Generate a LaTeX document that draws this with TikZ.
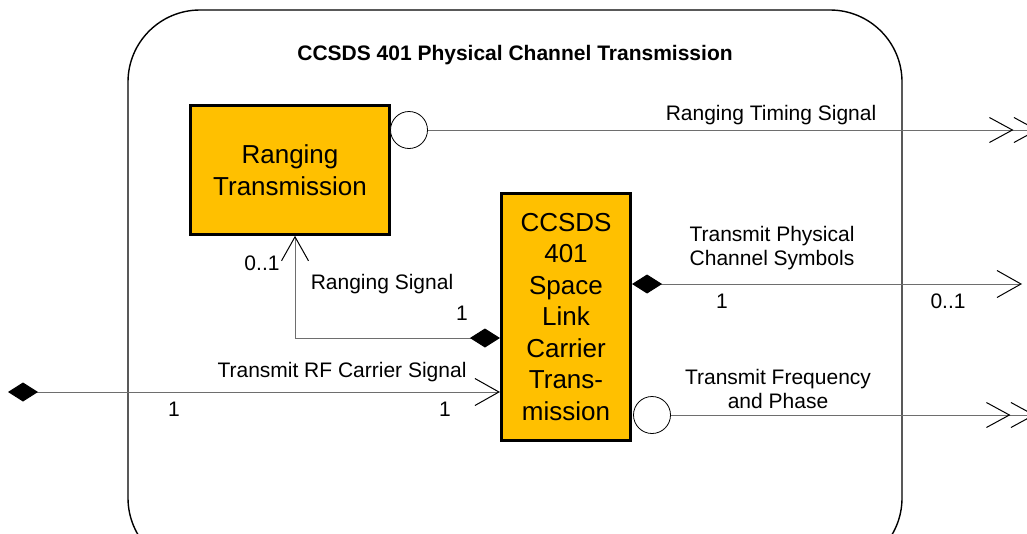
\documentclass[tikz,border=0pt]{standalone}
\usepackage{fontspec}
\setmainfont{Liberation Sans}
\usetikzlibrary{arrows.meta}
\definecolor{boxfill}{RGB}{255,192,0}
\definecolor{linegray}{RGB}{110,110,110}
\begin{document}
\begin{tikzpicture}[x=1pt,y=-1pt,
  block/.style={draw=black, line width=2.6pt, fill=boxfill, inner sep=0pt, align=center,
    font=\fontsize{26}{31.5}\selectfont},
  port/.style={circle, draw=black, line width=0.8pt, fill=white, minimum size=37pt, inner sep=0pt},
  conn/.style={draw=linegray, line width=1pt},
  opentip/.style={-{Straight Barb[length=24pt,width=27pt,color=black,line width=1pt]}},
  dbltip/.style={-{Straight Barb[length=23pt,width=25pt,color=black,line width=1pt,sep=0pt]Straight Barb[length=23pt,width=25pt,color=black,line width=1pt]}},
  diatip/.style={{Diamond[length=30pt,width=19pt,color=black,fill=black]}-},
  diaopen/.style={{Diamond[length=30pt,width=19pt,color=black,fill=black]}-{Straight Barb[length=24pt,width=27pt,color=black,line width=1pt]}},
  lbl/.style={font=\fontsize{21}{24}\selectfont, inner sep=0pt, align=center},
  ttl/.style={font=\bfseries\fontsize{21}{24}\selectfont, inner sep=0pt}]
\useasboundingbox (0,0) rectangle (1027,533);
\clip (0,0) rectangle (1027,533);
\fill[white] (0,0) rectangle (1027,533);

% container
\draw[line width=1.4pt, rounded corners=72pt] (128,10) rectangle (902,570);
\node[ttl] (title) at (515,55) {CCSDS 401 Physical Channel Transmission};

% blocks
\node[block, minimum width=199pt, minimum height=129pt] (rt) at (290,170) {Ranging\\Transmission};
\node[block, minimum width=129.5pt, minimum height=246.5pt] (cc) at (566,317)
  {CCSDS\\401\\Space\\Link\\Carrier\\Trans-\\mission};

% ports
\node[port] (p1) at (409,130) {};
\node[port] (p2) at (652,415) {};

% free ends
\coordinate (rtsEnd) at (1038,130);
\coordinate (tpcEnd) at (1022,284);
\coordinate (tfpEnd) at (1035,415);
\coordinate (rfStart) at (8,392);
\coordinate (rsBend) at (295,338);

% connectors
\draw[conn, dbltip] (p1.east) -- (rtsEnd);
\draw[conn, dbltip] (p2.east) -- (tfpEnd);
\draw[conn, diaopen] (cc.east |- tpcEnd) -- (tpcEnd);
\draw[conn, diaopen] (rfStart) -- (cc.west |- rfStart);
\draw[conn, diaopen] (cc.west |- rsBend) -- (rsBend) -- (rsBend |- rt.south);

% labels
\node[lbl] (l1) at (771,115) {Ranging Timing Signal};
\node[lbl] (l2) at (772,248) {Transmit Physical\\Channel Symbols};
\node[lbl] (l3) at (722,301) {1};
\node[lbl] (l4) at (948,301) {0..1};
\node[lbl] (l5) at (382,284) {Ranging Signal};
\node[lbl] (l6) at (462,313) {1};
\node[lbl] (l7) at (262,263) {0..1};
\node[lbl] (l8) at (342,372) {Transmit RF Carrier Signal};
\node[lbl] (l9) at (174,409) {1};
\node[lbl] (l10) at (445,409) {1};
\node[lbl] (l11) at (778,389) {Transmit Frequency\\and Phase};
\end{tikzpicture}
\end{document}
